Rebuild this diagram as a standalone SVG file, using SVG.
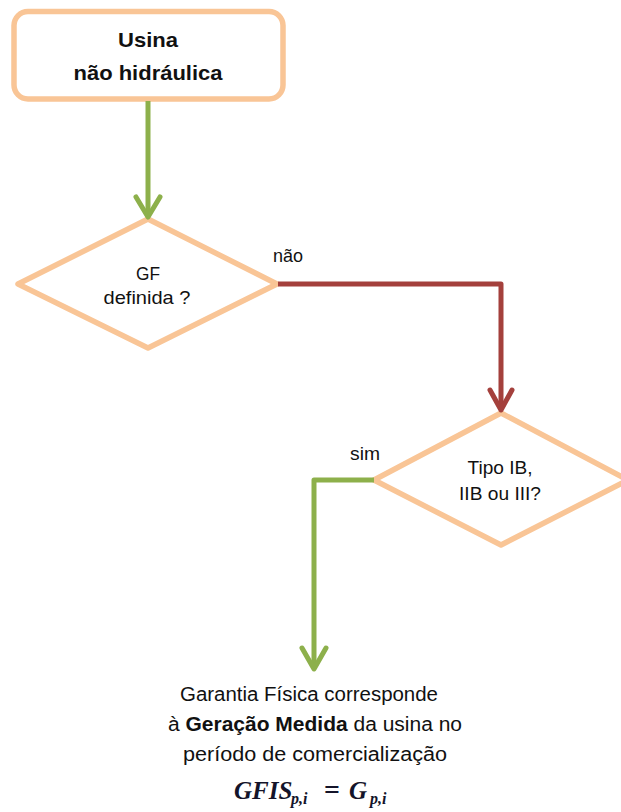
<svg xmlns="http://www.w3.org/2000/svg" width="621" height="812" viewBox="0 0 621 812">
  <style>
    .node { fill: #ffffff; stroke: #F9C596; stroke-width: 5.5; stroke-linejoin: round; }
    .lbl { font-family: "Liberation Sans", Arial, sans-serif; font-size: 18.5px; fill: #111111; }
    .body { font-family: "Liberation Sans", Arial, sans-serif; font-size: 19.5px; fill: #111111; }
    .title { font-family: "Liberation Sans", Arial, sans-serif; font-size: 21px; font-weight: bold; fill: #111111; }
    .wire { fill: none; stroke-width: 5; stroke-linejoin: round; stroke-linecap: butt; }
    .head { fill: none; stroke-width: 5; stroke-linejoin: round; stroke-linecap: round; }
    .yes { stroke: #8DB04B; }
    .no { stroke: #A4403C; }
    .math { font-family: "Liberation Serif", "Times New Roman", serif; font-style: italic; font-weight: bold; fill: #14142a; }
  </style>

  <!-- start block -->
  <g id="start">
    <rect class="node" x="14" y="11.5" width="269" height="87.5" rx="14" ry="14"/>
    <text class="title" x="148" y="47" text-anchor="middle" textLength="60" lengthAdjust="spacingAndGlyphs">Usina</text>
    <text class="title" x="148" y="80" text-anchor="middle" textLength="149" lengthAdjust="spacingAndGlyphs">não hidráulica</text>
  </g>

  <!-- decision: GF defined? -->
  <g id="gf-definida">
    <polygon class="node" points="148,219 277,284 148,348 18,284"/>
    <text class="lbl" x="148" y="280" text-anchor="middle" textLength="24" lengthAdjust="spacingAndGlyphs">GF</text>
    <text class="lbl" x="147" y="304" text-anchor="middle" textLength="87" lengthAdjust="spacingAndGlyphs">definida ?</text>
  </g>

  <!-- decision: type IB, IIB or III? -->
  <g id="tipo">
    <polygon class="node" points="501,413 628,480 501,545 374,480"/>
    <text class="lbl" x="500" y="474" text-anchor="middle" textLength="65" lengthAdjust="spacingAndGlyphs">Tipo IB,</text>
    <text class="lbl" x="500" y="500" text-anchor="middle" textLength="82" lengthAdjust="spacingAndGlyphs">IIB ou III?</text>
  </g>

  <!-- result -->
  <g id="resultado">
    <text class="body" x="309" y="701" text-anchor="middle" textLength="258" lengthAdjust="spacingAndGlyphs">Garantia Física corresponde</text>
    <text class="body" x="168" y="731" textLength="294" lengthAdjust="spacingAndGlyphs">à <tspan font-weight="bold">Geração Medida</tspan>  da usina no</text>
    <text class="body" x="315" y="761" text-anchor="middle" textLength="264" lengthAdjust="spacingAndGlyphs">período de comercialização</text>
    <text class="math" y="799" font-size="25"><tspan x="234">GFIS</tspan><tspan x="291" dy="5" font-size="16">p,i</tspan><tspan x="324" dy="-5" font-style="normal" font-size="28">=</tspan><tspan x="349">G</tspan><tspan x="370" dy="5" font-size="16">p,i</tspan></text>
  </g>

  <!-- connectors -->
  <g id="connectors">
    <path class="wire yes" d="M148,101 V215"/>
    <polyline class="head yes" points="136,197 148,217 160,197"/>

    <path class="wire no" d="M278,284 H501 V407"/>
    <polyline class="head no" points="490,390 501,410 512,390"/>
    <text class="lbl" x="273" y="262" textLength="30" lengthAdjust="spacingAndGlyphs">não</text>

    <path class="wire yes" d="M374,480 H314 V666"/>
    <polyline class="head yes" points="302,648 314,669 326,648"/>
    <text class="lbl" x="350" y="460" textLength="30" lengthAdjust="spacingAndGlyphs">sim</text>
  </g>
</svg>
